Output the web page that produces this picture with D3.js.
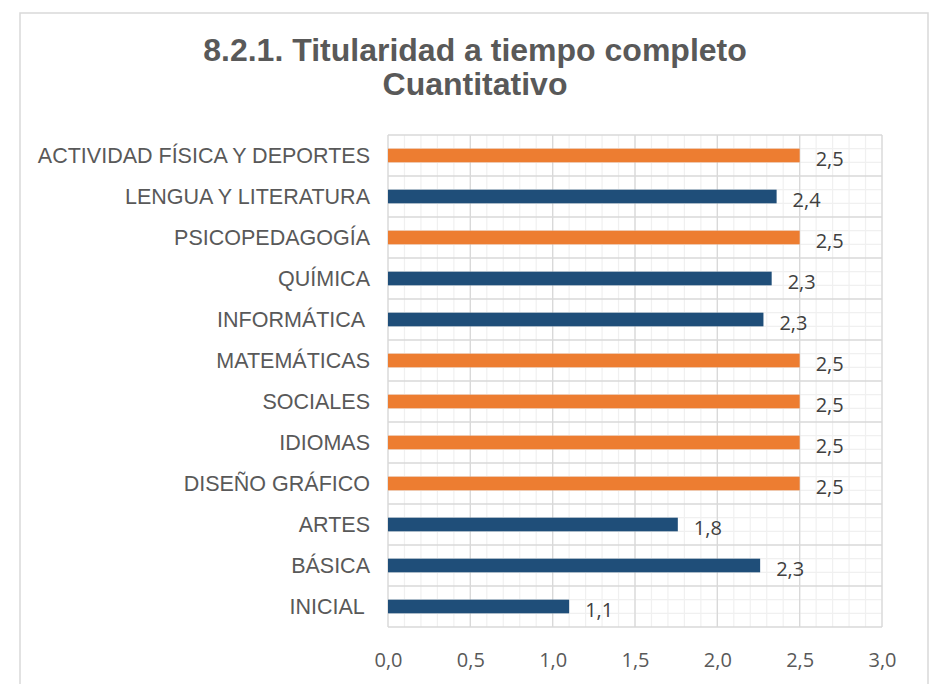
<!DOCTYPE html>
<html>
<head>
<meta charset="utf-8">
<script src="https://cdn.jsdelivr.net/npm/d3@7"></script>
<style>
  html, body { margin: 0; padding: 0; background: #fff; }
  svg { display: block; }
</style>
</head>
<body>
<svg id="chart" width="932" height="684"></svg>
<script>
// ---- data ----
const titleLines = ["8.2.1. Titularidad a tiempo completo", "Cuantitativo"];
const categories = [
  "ACTIVIDAD FÍSICA Y DEPORTES",
  "LENGUA Y LITERATURA",
  "PSICOPEDAGOGÍA",
  "QUÍMICA",
  "INFORMÁTICA ",
  "MATEMÁTICAS",
  "SOCIALES",
  "IDIOMAS",
  "DISEÑO GRÁFICO",
  "ARTES",
  "BÁSICA",
  "INICIAL "
];
const values = [2.5, 2.36, 2.5, 2.33, 2.28, 2.5, 2.5, 2.5, 2.5, 1.76, 2.26, 1.1];
const xTicks = [0, 0.5, 1, 1.5, 2, 2.5, 3];
const xDomain = [0, 3];

// ---- drawing ----
const svg = d3.select("#chart");
const plot = { left: 388, right: 882, top: 135, bottom: 627 };

// outer chart border
svg.append("rect")
  .attr("x", 20).attr("y", 13)
  .attr("width", 908).attr("height", 700)
  .attr("fill", "#fff")
  .attr("stroke", "#d9d9d9").attr("stroke-width", 1.5);

// title
svg.append("text")
  .attr("text-anchor", "middle")
  .attr("font-family", "'Liberation Sans', Arial, sans-serif")
  .attr("font-weight", "bold")
  .attr("font-size", 32)
  .attr("fill", "#595959")
  .selectAll("tspan").data(titleLines).join("tspan")
  .attr("x", 475)
  .attr("y", (d, i) => 61 + i * 34)
  .text(d => d);

const x = d3.scaleLinear().domain(xDomain).range([plot.left, plot.right]);
const y = d3.scaleBand().domain(categories)
  .range([plot.top, plot.bottom])
  .paddingInner(2 / 3).paddingOuter(1 / 3);
const step = y.step();

const grid = svg.append("g");
// minor vertical gridlines every 0.1
const minorX = d3.range(0, 31).map(i => i / 10);
grid.selectAll("line.mx").data(minorX).join("line")
  .attr("x1", d => x(d)).attr("x2", d => x(d))
  .attr("y1", plot.top).attr("y2", plot.bottom)
  .attr("stroke", "#f0f0f0").attr("stroke-width", 1.2);
// minor horizontal gridlines at 1/3 and 2/3 of each band
const bandStarts = categories.map((c, i) => plot.top + i * step);
const minorY = [];
bandStarts.forEach(s => { minorY.push(s + step / 3); minorY.push(s + 2 * step / 3); });
grid.selectAll("line.my").data(minorY).join("line")
  .attr("x1", plot.left).attr("x2", plot.right)
  .attr("y1", d => d).attr("y2", d => d)
  .attr("stroke", "#f0f0f0").attr("stroke-width", 1.2);
// major vertical gridlines
grid.selectAll("line.Mx").data(xTicks).join("line")
  .attr("x1", d => x(d)).attr("x2", d => x(d))
  .attr("y1", plot.top).attr("y2", plot.bottom)
  .attr("stroke", "#d9d9d9").attr("stroke-width", 1.3);
// major horizontal gridlines at band boundaries
const majorY = bandStarts.concat([plot.bottom]);
grid.selectAll("line.My").data(majorY).join("line")
  .attr("x1", plot.left).attr("x2", plot.right)
  .attr("y1", d => d).attr("y2", d => d)
  .attr("stroke", "#d9d9d9").attr("stroke-width", 1.3);

// bars
const maxVal = d3.max(values);
const data = categories.map((c, i) => ({ c, v: values[i] }));
svg.append("g").selectAll("rect").data(data).join("rect")
  .attr("x", x(0))
  .attr("y", d => y(d.c))
  .attr("width", d => x(d.v) - x(0))
  .attr("height", y.bandwidth())
  .attr("fill", d => d.v >= maxVal ? "#ED7D31" : "#1F4E79");

// value labels
const fmt = v => v.toFixed(1).replace(".", ",");
svg.append("g").selectAll("text").data(data).join("text")
  .attr("x", d => x(d.v) + 16)
  .attr("y", d => y(d.c) + y.bandwidth() / 2 + 10)
  .attr("font-family", "'Open Sans', 'Noto Sans', sans-serif")
  .attr("font-size", 20)
  .attr("fill", "#404040")
  .text(d => fmt(d.v));

// category labels
svg.append("g").selectAll("text").data(categories).join("text")
  .attr("x", 370)
  .attr("y", d => y(d) + y.bandwidth() / 2 + 7.5)
  .attr("text-anchor", "end")
  .attr("font-family", "'Liberation Sans', Arial, sans-serif")
  .attr("font-size", 21.5)
  .attr("fill", "#595959")
  .style("white-space", "pre")
  .text(d => d);

// x axis tick labels
const xAxis = d3.axisBottom(x).tickValues(xTicks).tickSize(0).tickPadding(0)
  .tickFormat(d => d.toFixed(1).replace(".", ","));
const ax = svg.append("g").attr("transform", `translate(0,${plot.bottom})`).call(xAxis);
ax.select(".domain").remove();
ax.selectAll("text")
  .attr("dy", null)
  .attr("y", 40)
  .attr("font-family", "'Open Sans', 'Noto Sans', sans-serif")
  .attr("font-size", 20)
  .attr("fill", "#595959");
</script>
</body>
</html>
